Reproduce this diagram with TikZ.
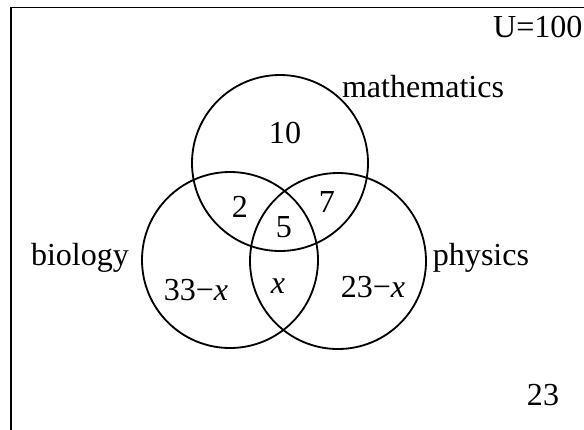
\documentclass[tikz,border=0pt]{standalone}
\usepackage{fontspec}
\setmainfont{Liberation Serif}
\tikzset{
  set/.style={draw, circle, line width=1.3pt, minimum size=4.4cm, inner sep=0pt, outer sep=0pt},
  lbl/.style={anchor=base, inner sep=0pt}
}
\begin{document}
\begin{tikzpicture}[font=\fontsize{22.8}{27}\selectfont]
        \useasboundingbox (0,0) rectangle (14.6,-10.725);
        \clip (0,0) rectangle (14.6,-10.725);

        % Univers (cadre coupé à droite et en bas)
        \draw[line width=1.3pt] (0.275,-0.1875) rectangle (15.5,-11.5);
        \node[anchor=base east, inner sep=0pt] (univ) at (14.57,-0.925) {U=100};

        % Ensembles
        \node[set] (maths) at (7.0,-4.075) {};
        \node[set] (bio)   at (5.75,-6.5) {};
        \node[set] (phys)  at (8.45,-6.525) {};

        % Noms des ensembles
        \node[lbl] (lmaths) at (10.575,-2.425) {mathematics};
        \node[lbl] (lbio)   at (2.0,-6.625) {biology};
        \node[lbl] (lphys)  at (12.025,-6.625) {physics};

        % Effectifs des régions
        \node[lbl] (nM)   at (7.125,-3.575) {10};
        \node[lbl] (nMB)  at (6.0,-5.425) {2};
        \node[lbl] (nMP)  at (8.175,-5.3) {7};
        \node[lbl] (nMBP) at (7.1,-5.925) {5};
        \node[lbl] (nB)   at (4.9,-7.5) {33−\textit{x}};
        \node[lbl] (nBP)  at (6.95,-7.325) {\textit{x}};
        \node[lbl] (nP)   at (9.325,-7.425) {23−\textit{x}};
        \node[lbl] (nout) at (13.575,-10.125) {23};
\end{tikzpicture}
\end{document}
